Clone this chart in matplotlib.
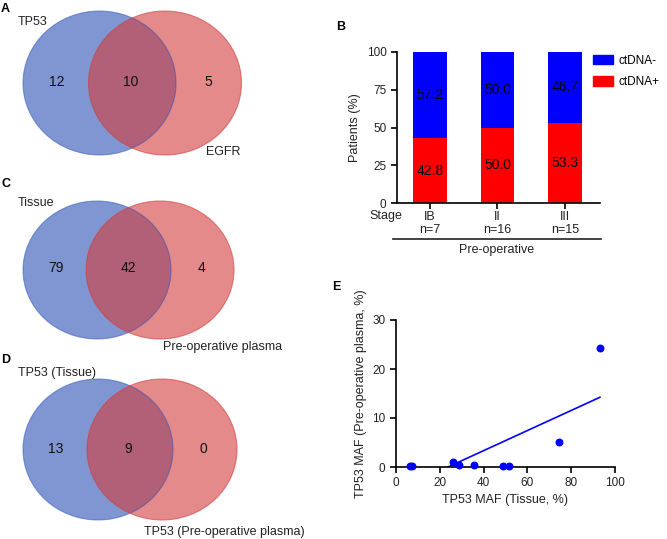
import numpy as np
import matplotlib
matplotlib.use("Agg")
import matplotlib.pyplot as plt
from matplotlib import font_manager as fm
from matplotlib.patches import Ellipse, Patch
from matplotlib.lines import Line2D

# drop the narrow variant so "Liberation Sans" picks the regular width
fm.fontManager.ttflist = [f for f in fm.fontManager.ttflist if "Narrow" not in f.fname]
plt.rcParams['font.family'] = ['Liberation Sans', 'DejaVu Sans']
plt.rcParams['mathtext.fontset'] = 'custom'
plt.rcParams['mathtext.rm'] = 'Liberation Sans'
plt.rcParams['mathtext.it'] = 'Liberation Sans:italic'

# Venn counts (left only, overlap, right only)
venn_a = [12, 10, 5]
venn_c = [79, 42, 4]
venn_d = [13, 9, 0]

# panel B
stages = ["IB\nn=7", "II\nn=16", "III\nn=15"]
ctdna_pos = [42.8, 50.0, 53.3]
ctdna_neg = [57.2, 50.0, 46.7]

# panel E
tissue_maf = [6.5, 7.2, 26.2, 28.6, 35.6, 49.0, 51.4, 74.4, 93.1]
plasma_maf = [0.3, 0.3, 1.1, 0.4, 0.5, 0.3, 0.3, 5.1, 24.2]

W, H = 667, 539
fig = plt.figure(figsize=(W / 100, H / 100), dpi=100)

# overlay axes in pixel coords for venns and panel letters
ov = fig.add_axes([0, 0, 1, 1])
ov.set_xlim(0, W)
ov.set_ylim(H, 0)
ov.axis("off")

blue_c = (43 / 255, 80 / 255, 183 / 255)
red_c = (210 / 255, 60 / 255, 60 / 255)


def venn(counts, cy, lx, rx, w, h, ty, xs):
    ov.add_patch(Ellipse((lx, cy), w, h, facecolor=blue_c, alpha=0.6, edgecolor="none"))
    ov.add_patch(Ellipse((rx, cy), w, h, facecolor=red_c, alpha=0.6, edgecolor="none"))
    ov.add_patch(Ellipse((lx, cy), w, h, facecolor="none", edgecolor=blue_c, alpha=0.5, lw=0.8))
    ov.add_patch(Ellipse((rx, cy), w, h, facecolor="none", edgecolor=red_c, alpha=0.6, lw=0.8))
    for x, c in zip(xs, counts):
        ov.text(x, ty, str(c), ha="center", va="center", fontsize=10, color="#111111")


venn(venn_a, 83, 99.5, 165, 153, 144, 82, [57, 131, 208])
venn(venn_c, 270, 97, 160, 148, 138, 268, [56, 128, 201])
venn(venn_d, 449.5, 98, 162, 150, 141, 449, [56, 128, 203])

lab = dict(ha="left", va="center", fontsize=9, color="#222222")
ov.text(18, 22, "TP53", **lab)
ov.text(206, 152, "EGFR", **lab)
ov.text(18, 203, "Tissue", **lab)
ov.text(163, 347, "Pre-operative plasma", **lab)
ov.text(18, 373, "TP53 (Tissue)", **lab)
ov.text(144, 532, "TP53 (Pre-operative plasma)", **lab)

pl = dict(ha="left", va="center", fontsize=9, fontweight="bold")
ov.text(1, 9, "A", **pl)
ov.text(336, 27, "B", **pl)
ov.text(1, 184, "C", **pl)
ov.text(1, 360, "D", **pl)
ov.text(332, 287, "E", **pl)

# ---- panel B ----
axb = fig.add_axes([397 / W, 1 - 203 / H, 203 / W, 151 / H])
x = np.arange(len(stages))
axb.bar(x, ctdna_pos, width=0.5, color="#ff0000")
axb.bar(x, ctdna_neg, width=0.5, bottom=ctdna_pos, color="#0000ff")
for i in range(len(x)):
    axb.text(x[i], ctdna_pos[i] / 2, "%.1f" % ctdna_pos[i], ha="center", va="center", fontsize=10)
    axb.text(x[i], ctdna_pos[i] + ctdna_neg[i] / 2, "%.1f" % ctdna_neg[i], ha="center", va="center", fontsize=10)
axb.set_xlim(-0.49, 2.52)
axb.set_ylim(0, 100)
axb.set_yticks([0, 25, 50, 75, 100])
axb.set_xticks(x)
axb.set_xticklabels(stages, fontsize=9, color="#222222", linespacing=1.05)
axb.tick_params(axis="y", labelsize=8.5, labelcolor="#222222", length=4, width=1.2)
axb.tick_params(axis="x", length=4, width=1.2, pad=2)
axb.set_ylabel("Patients (%)", fontsize=9, color="#222222", labelpad=4)
for s in ["top", "right"]:
    axb.spines[s].set_visible(False)
for s in ["left", "bottom"]:
    axb.spines[s].set_linewidth(1.2)
axb.legend(handles=[Patch(color="#0000ff", label="ctDNA-"), Patch(color="#ff0000", label="ctDNA+")],
           loc="upper left", bbox_to_anchor=(0.93, 1.03), frameon=False, fontsize=8.5,
           handlelength=1.7, handleheight=0.9, labelspacing=0.8, handletextpad=0.5,
           borderaxespad=0.2)
ov.text(386, 216, "Stage", ha="center", va="center", fontsize=9, color="#222222")
ov.add_line(Line2D([393, 601], [239, 239], color="#222222", lw=1.2))
ov.text(497, 250, "Pre-operative", ha="center", va="center", fontsize=9, color="#222222")

# ---- panel E ----
axe = fig.add_axes([396 / W, 1 - 467 / H, 219 / W, 147 / H])
axe.scatter(tissue_maf, plasma_maf, s=22, color="#0000ff", zorder=5, clip_on=False)
slope, icpt = np.polyfit(tissue_maf, plasma_maf, 1)
x0 = max(-icpt / slope, min(tissue_maf))
xl = np.array([x0, max(tissue_maf)])
axe.plot(xl, slope * xl + icpt, color="#0000ff", lw=1.2)
axe.set_xlim(0, 100)
axe.set_ylim(0, 30)
axe.set_xticks([0, 20, 40, 60, 80, 100])
axe.set_yticks([0, 10, 20, 30])
axe.tick_params(labelsize=8.5, labelcolor="#222222", length=4, width=1.2)
axe.set_xlabel("TP53 MAF (Tissue, %)", fontsize=9, color="#222222", labelpad=3)
axe.set_ylabel("TP53 MAF (Pre-operative plasma, %)", fontsize=9, color="#222222", labelpad=4)
for s in ["top", "right"]:
    axe.spines[s].set_visible(False)
for s in ["left", "bottom"]:
    axe.spines[s].set_linewidth(1.2)
ov.text(414, 335, "r", ha="left", va="baseline", fontsize=12, color="#222222")
ov.text(421, 337, "s=0.773", ha="left", va="baseline", fontsize=9, color="#222222")
ov.text(415, 353, r"$\mathit{P}$=0.015", ha="left", va="center", fontsize=9, color="#222222")

fig.savefig("out.png", dpi=100)
